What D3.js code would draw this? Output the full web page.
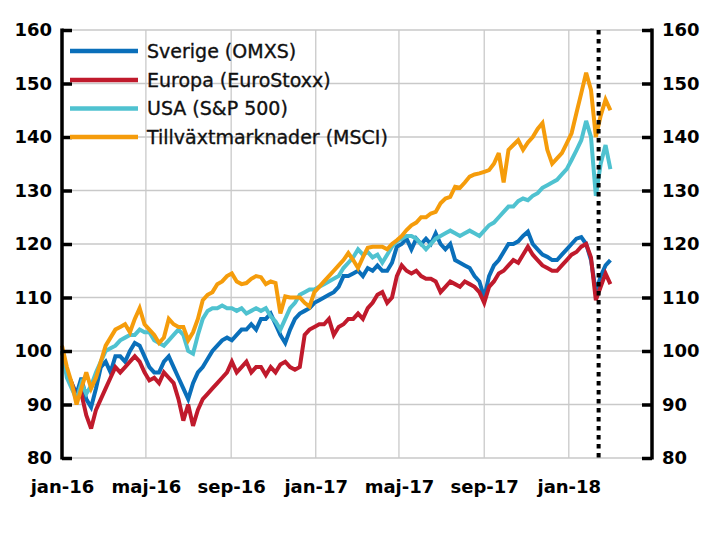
<!DOCTYPE html>
<html>
<head>
<meta charset="utf-8">
<script src="https://cdn.jsdelivr.net/npm/d3@7"></script>
<style>
  html, body { margin: 0; padding: 0; background: #fff; }
  svg { display: block; font-family: "DejaVu Sans", sans-serif; }
</style>
</head>
<body>
<svg id="chart" width="715" height="550"></svg>
<script>
// ---------- DATA ----------
const startDate = "2016-01-01";          // weekly observations from here
const weekCount = 114;
const seriesNames = ["Sverige (OMXS)", "Europa (EuroStoxx)", "USA (S&P 500)", "Tillväxtmarknader (MSCI)"];
const seriesColors = ["#0a6fba", "#c01a2c", "#4fc2d0", "#f59c0b"];

const sverige = [100,96,94,92,95,91,89.5,93,97,98,96,99,99,98,100,101.5,101,99,97,96,
  96,98,99,97,95,93,91,94,96,97,98.5,100,101,102,102.5,102,103,104,104,105,
  104,106,106,107,105,103,101.5,104,106,107,107.5,108,109,109.5,110,110.5,111,112,114,114,
  114.5,115,114,115.5,115,116,115,115,116.5,119.5,120,121,119,121,120,121,120,122,120,119,
  120,117,116.5,116,115.5,114,113,110,114,116,117,118.5,120,120,120.5,121.5,122.3,120,119,118,
  117.6,117,117,118,119,120,121,121.3,120,117,111,114,116,117];

const europa = [100,96,94,91,92,88,85.5,89,91,93,95,97,96,97,98,99,98,96,94.5,95,
  94,96,95,94,91,87,90,86,89,91,92,93,94,95,96,98,96,97,98,96,
  97,97,95.5,97,96,97.5,98,97,96.5,97,103,104,104.5,105,105,106,103,104.5,105,106,
  106,107,106,108,109,110.5,111,109,110,114,116,115,114.5,115,114,113.5,113.5,113,111,112,
  113,112.5,112,113,112.5,112,111,109,112,113,114.5,115,116,117,116.5,118,119.5,118,117,116,
  115.5,115,115,116,117,118,118.5,119.5,120,117.5,109.5,112,114.5,112.5];

const usa = [100,95,93,91,94,92,93.5,96,98,100,100.5,101,102,102.5,103,103,104,103.5,103.5,102,
  101.5,101,102,103,104,103,100,99.5,103,106,107.5,108,108,108.5,108,108,107.5,108,107,107.5,
  108,107.5,108,106.5,105.5,104,106,108,109,110.5,111,111.5,111.5,112,112.5,113,113.5,114,115.5,116.5,
  117.5,119,118,118.5,117.5,118,116.5,118,119.5,120.5,121,121.5,121.5,121,120,119,120,121,121.5,122,
  122.5,122,121.5,122,122.5,122,121.5,122.5,123.5,124,125,126,127,127,128,128.5,128.2,129,129.5,130.5,
  131,131.5,132,133,134,135.7,137.5,139.4,143,140,129,135,138.5,134];

const tillvaxt = [101,97,94,90,93,96,93,95,98,101,102.5,104,104.5,105,103.5,106,108,105,104,103,
  101.5,102.5,106,105,104.5,104.5,102,103.5,106,109.5,110.5,111,112.5,113,114,114.5,113,112.5,112.7,113.5,
  114,113.8,112.5,113,112.7,107,110.2,110,110,110,109,108.3,111,112,113,114,115,116,117,118.3,
  117,115.5,117.5,119.3,119.5,119.5,119.5,119,120,120.7,121.5,122.6,123.5,124,125,125,125.7,126,127.6,128.5,
  128.8,130.7,130.5,131.5,132.6,133,133.2,133.5,133.8,135,137,131.5,137.6,138.5,139.4,137.6,139,140,141.5,142.6,
  137.6,135,136,137,138.8,140.7,144.5,148.2,152,148.8,140,144,147,145];

const xTickDates = ["2016-01-01","2016-05-01","2016-09-01","2017-01-01","2017-05-01","2017-09-01","2018-01-01"];
const xTickLabels = ["jan-16","maj-16","sep-16","jan-17","maj-17","sep-17","jan-18"];
const yTicks = [80, 90, 100, 110, 120, 130, 140, 150, 160];
const xDomain = ["2016-01-01", "2018-05-01"];
const yDomain = [80, 160];
const markerDate = "2018-02-13";

// ---------- BUILD ----------
const parse = d3.utcParse("%Y-%m-%d");
const t0 = parse(startDate);
const dates = d3.range(weekCount).map(i => d3.utcDay.offset(t0, 7 * i));
const allSeries = [sverige, europa, usa, tillvaxt];

const svg = d3.select("#chart");
const L = 62, R = 652, T = 30, B = 458;

const x = d3.scaleUtc().domain(xDomain.map(parse)).range([L, R]);
const y = d3.scaleLinear().domain(yDomain).range([B, T]);

// gridlines
const grid = svg.append("g");
grid.selectAll("line.h").data(yTicks).join("line")
  .attr("x1", L).attr("x2", R)
  .attr("y1", d => y(d)).attr("y2", d => y(d))
  .attr("stroke", "#c9c9c9").attr("stroke-width", 1.3);
grid.selectAll("line.v").data(xTickDates.map(parse)).join("line")
  .attr("x1", d => x(d)).attr("x2", d => x(d))
  .attr("y1", T).attr("y2", B)
  .attr("stroke", "#c9c9c9").attr("stroke-width", 1.3);

// series
const line = d3.line().x((d, i) => x(dates[i])).y(d => y(d));
svg.append("g").selectAll("path").data([0, 1, 2, 3]).join("path")
  .attr("d", i => line(allSeries[i]))
  .attr("fill", "none")
  .attr("stroke", i => seriesColors[i])
  .attr("stroke-width", 4)
  .attr("stroke-linejoin", "miter")
  .attr("stroke-miterlimit", 3);

// dotted marker
svg.append("line")
  .attr("x1", x(parse(markerDate))).attr("x2", x(parse(markerDate)))
  .attr("y1", T).attr("y2", B)
  .attr("stroke", "#000").attr("stroke-width", 4)
  .attr("stroke-dasharray", "4.5,4.5");

// left axis
const leftAxis = d3.axisLeft(y).tickValues(yTicks).tickSize(-10).tickPadding(20).tickSizeOuter(0);
const gl = svg.append("g").attr("transform", `translate(${L},0)`).call(leftAxis);
// right axis
const rightAxis = d3.axisRight(y).tickValues(yTicks).tickSize(-10).tickPadding(20).tickSizeOuter(0);
const gr = svg.append("g").attr("transform", `translate(${R},0)`).call(rightAxis);
[gl, gr].forEach(g => {
  g.select(".domain").attr("stroke", "#000").attr("stroke-width", 3.5)
    .attr("d", `M0,${T - 1.5}V${B + 1.5}`);
  g.selectAll(".tick line").attr("stroke", "#000").attr("stroke-width", 3.5);
  g.selectAll(".tick text").attr("fill", "#000")
    .style("font-family", "'DejaVu Sans', sans-serif")
    .style("font-size", "18px").style("font-weight", "700");
});
gl.selectAll(".tick text").attr("x", -10);
gr.selectAll(".tick text").attr("x", 10);

// x labels
const xAxis = d3.axisBottom(x).tickValues(xTickDates.map(parse))
  .tickFormat((d, i) => xTickLabels[i]).tickSize(0).tickPadding(22);
const gx = svg.append("g").attr("transform", `translate(0,${B})`).call(xAxis);
gx.select(".domain").remove();
gx.selectAll(".tick text").attr("fill", "#000")
  .style("font-family", "'DejaVu Sans', sans-serif")
  .style("font-size", "18px").style("font-weight", "700");

// legend
const leg = svg.append("g");
const legY = [51, 80, 108.5, 137];
seriesNames.forEach((name, i) => {
  leg.append("line").attr("x1", 70).attr("x2", 138)
    .attr("y1", legY[i]).attr("y2", legY[i])
    .attr("stroke", seriesColors[i]).attr("stroke-width", 4.5);
  leg.append("text").attr("x", 147).attr("y", legY[i]).attr("dy", "0.36em")
    .style("font-family", "'DejaVu Sans', sans-serif")
    .style("font-size", "19px").style("font-weight", "400")
    .style("stroke", "#111").style("stroke-width", "0.35px")
    .attr("fill", "#111").text(name);
});
</script>
</body>
</html>
